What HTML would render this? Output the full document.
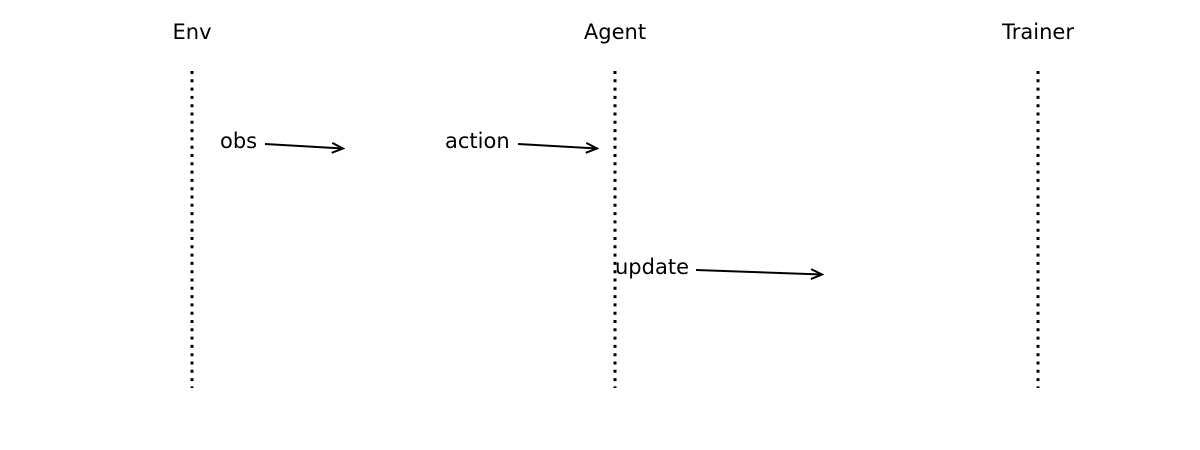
<!DOCTYPE html>
<html><head><meta charset="utf-8"><style>
body{margin:0;background:#fff}
svg{display:block}
text{font-family:"DejaVu Sans",sans-serif;font-size:21px;fill:#000}
</style></head><body>
<svg width="1200" height="450" viewBox="0 0 1200 450">
<defs><marker id="a" markerWidth="14" markerHeight="14" refX="12" refY="7" orient="auto" markerUnits="userSpaceOnUse">
<path d="M1,2 L12,7 L1,12" fill="none" stroke="#000" stroke-width="2"/></marker></defs>
<text x="192" y="39" text-anchor="middle">Env</text>
<text x="615" y="39" text-anchor="middle">Agent</text>
<text x="1038" y="39" text-anchor="middle">Trainer</text>
<g stroke="#000" stroke-width="3" stroke-dasharray="3,5.3">
<line x1="192" y1="71" x2="192" y2="388"/>
<line x1="615" y1="71" x2="615" y2="388"/>
<line x1="1038" y1="71" x2="1038" y2="388"/>
</g>
<text x="220" y="148">obs</text>
<text x="445" y="148">action</text>
<text x="615" y="274">update</text>
<g stroke="#000" stroke-width="2" fill="none">
<line x1="265" y1="144" x2="343" y2="148.5" marker-end="url(#a)"/>
<line x1="518" y1="144" x2="597" y2="148.5" marker-end="url(#a)"/>
<line x1="696" y1="270" x2="822" y2="274.5" marker-end="url(#a)"/>
</g>
</svg>
</body></html>
